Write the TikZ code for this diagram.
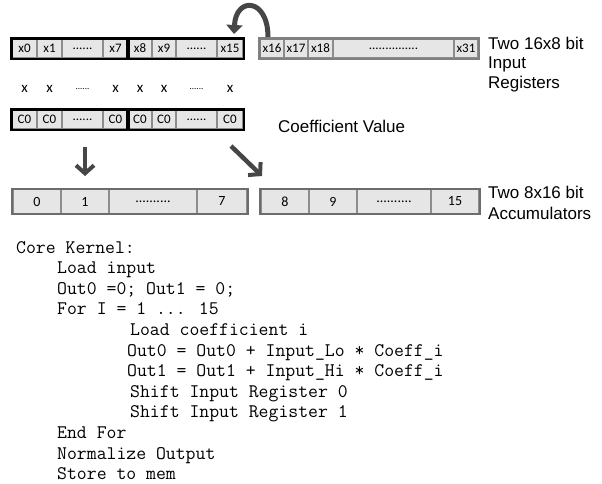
\documentclass[tikz,border=0pt]{standalone}
\usepackage{fontspec}
\setmainfont{Liberation Sans}
\newfontfamily\calib{Carlito}
\usetikzlibrary{arrows.meta}
\definecolor{cellfill}{RGB}{230,230,230}
\definecolor{celldraw}{RGB}{140,140,140}
\definecolor{arrowgray}{RGB}{70,70,70}
\newcommand\mydsix{......}
\newcommand\mydfift{...............}
\newcommand\mydten{..........}
\newcommand\mysmalld{{\fontsize{9}{10}\selectfont......}}
\tikzset{
  cell/.style={draw=celldraw, line width=1.2pt, fill=cellfill, inner sep=0pt, anchor=center,
    font=\calib\fontsize{13}{15}\selectfont},
  acell/.style={cell, line width=1.6pt, draw=gray!90, font=\calib\fontsize{14}{16}\selectfont},
  grp/.style={draw=black, line width=2.2pt},
  sgrp/.style={draw=gray, line width=2.2pt},
  agrp/.style={draw=gray!85!black, line width=2pt},
  xlab/.style={inner sep=0pt, font=\calib\fontsize{15}{17}\selectfont},
  lab/.style={anchor=base west, inner sep=0pt, font=\fontsize{17}{20}\selectfont},
  code/.style={anchor=base west, inner sep=0pt, font=\ttfamily\fontsize{19.2}{20}\selectfont},
  bigarrow/.style={draw=arrowgray, line width=4.5pt, -{Straight Barb[length=8pt,width=18pt,line width=4pt]}},
}
\begin{document}
\begin{tikzpicture}[x=1pt,y=-1pt]
\useasboundingbox (0,0) rectangle (602,483);
% top input register (x0..x15)
\foreach \l/\r/\t [count=\i] in {12/37/x0,37/62/x1,62/103/\mydsix,103/128/x7,128/152/x8,152/176/x9,176/217/\mydsix,217/243/x15}
  \node[cell, minimum width={(\r-\l)*1pt}, minimum height=19pt] (r\i) at ({(\l+\r)/2},48.5) {\t};
\draw[grp] (r1.north west) rectangle (r4.south east);
\draw[grp] (r5.north west) rectangle (r8.south east);
% second input register (x16..x31)
\foreach \l/\r/\t [count=\i] in {260/284/x16,284/308/x17,308/333/x18,333/454/\mydfift,454/478/x31}
  \node[cell, minimum width={(\r-\l)*1pt}, minimum height=19pt] (s\i) at ({(\l+\r)/2},48.5) {\t};
\draw[sgrp] (s1.north west) rectangle (s5.south east);
% multiply signs
\foreach \c/\t [count=\i] in {24.5/x,49.5/x,82.5/\mysmalld,115.5/x,140/x,164/x,196.5/\mysmalld,230/x}
  \node[xlab] (m\i) at (\c,89) {\t};
% coefficient register
\foreach \l/\r/\t [count=\i] in {12/37/C0,37/62/C0,62/103/\mydsix,103/128/C0,128/152/C0,152/176/C0,176/217/\mydsix,217/243/C0}
  \node[cell, minimum width={(\r-\l)*1pt}, minimum height=19pt] (c\i) at ({(\l+\r)/2},119.5) {\t};
\draw[grp] (c1.north west) rectangle (c4.south east);
\draw[grp] (c5.north west) rectangle (c8.south east);
% accumulators
\foreach \l/\r/\t [count=\i] in {13/61/0,61/109/1,109/197/\mydten,197/247/7}
  \node[acell, minimum width={(\r-\l)*1pt}, minimum height=24pt] (a\i) at ({(\l+\r)/2},201.5) {\t};
\draw[agrp] (a1.north west) rectangle (a4.south east);
\foreach \l/\r/\t [count=\i] in {261/309/8,309/357/9,357/431/\mydten,431/479/15}
  \node[acell, minimum width={(\r-\l)*1pt}, minimum height=24pt] (b\i) at ({(\l+\r)/2},201.5) {\t};
\draw[agrp] (b1.north west) rectangle (b4.south east);
% labels
\node[lab] (t1) at (488,49) {Two 16x8 bit};
\node[lab] (t2) at (488,68.5) {Input};
\node[lab] (t3) at (488,88) {Registers};
\node[lab] (cv) at (278,132) {Coefficient Value};
\node[lab] (t4) at (488,198.5) {Two 8x16 bit};
\node[lab] (t5) at (488,219) {Accumulators};
% arrows
\coordinate (d1) at (85,147);
\coordinate (d2) at (85,176);
\draw[bigarrow] (d1) -- (d2);
\coordinate (e1) at (231,146);
\coordinate (e2) at (262,176);
\draw[bigarrow] (e1) -- (e2);
\coordinate (f1) at (268,37);
\coordinate (f2) at (234,34);
\draw[draw=arrowgray, line width=5pt, -{Triangle[length=9pt,width=16pt]}] (f1) .. controls (268,-2) and (236,-4) .. (f2);
% code
\node[code] (k0) at (16,253) {Core Kernel:};
\node[code] (k1) at (57,273.6) {Load input};
\node[code] (k2) at (57,294.2) {Out0 =0; Out1 = 0;};
\node[code] (k3) at (57,314.8) {For I = 1 ... 15};
\node[code] (k4) at (130,335.4) {Load coefficient i};
\node[code] (k5) at (127,356) {Out0 = Out0 + Input\_Lo * Coeff\_i};
\node[code] (k6) at (127,376.6) {Out1 = Out1 + Input\_Hi * Coeff\_i};
\node[code] (k7) at (130,397.2) {Shift Input Register 0};
\node[code] (k8) at (130,417.8) {Shift Input Register 1};
\node[code] (k9) at (57,438.4) {End For};
\node[code] (k10) at (57,459) {Normalize Output};
\node[code] (k11) at (57,479.6) {Store to mem};
\end{tikzpicture}
\end{document}
